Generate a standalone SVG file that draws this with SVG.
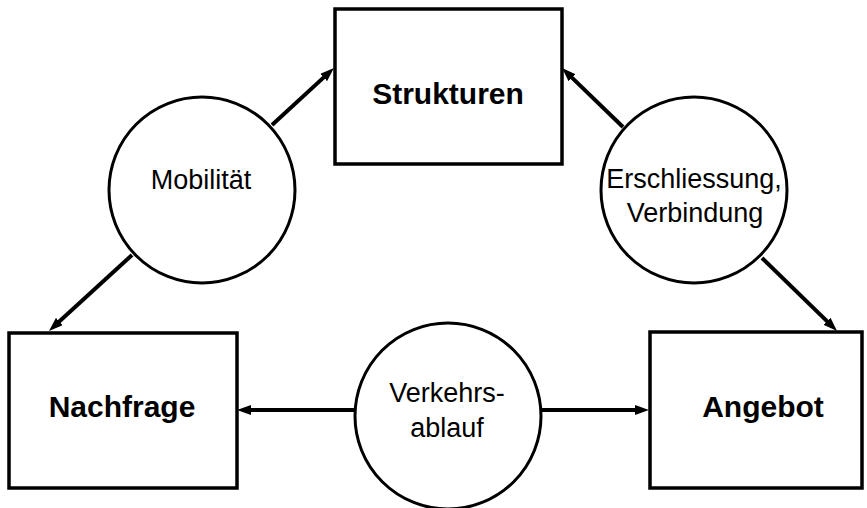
<svg xmlns="http://www.w3.org/2000/svg" width="867" height="508" viewBox="0 0 867 508">
<style>
.box{fill:#fff;stroke:#000;stroke-width:3.5}
.circ{fill:#fff;stroke:#000;stroke-width:3}
.conn{stroke:#000;stroke-width:4;fill:none}
.bt{font-family:"Liberation Sans",Arial,sans-serif;font-weight:bold;font-size:30px;text-anchor:middle;fill:#000}
.ct{font-family:"Liberation Sans",Arial,sans-serif;font-size:27px;text-anchor:middle;fill:#000}
</style>
<defs>
<marker id="ah" markerUnits="userSpaceOnUse" markerWidth="14" markerHeight="10" refX="6" refY="5" orient="auto">
<path d="M0,0 L14,5 L0,10 z" fill="#000"/>
</marker>
</defs>
<g id="connectors">
<line class="conn" x1="272" y1="125" x2="328.1" y2="73.4" marker-end="url(#ah)"/>
<line class="conn" x1="132" y1="255" x2="54.9" y2="325.6" marker-end="url(#ah)"/>
<line class="conn" x1="623" y1="127" x2="567.8" y2="73.6" marker-end="url(#ah)"/>
<line class="conn" x1="762" y1="258" x2="831.3" y2="325.4" marker-end="url(#ah)"/>
<line class="conn" x1="354" y1="410" x2="245" y2="410" marker-end="url(#ah)"/>
<line class="conn" x1="542" y1="410" x2="641" y2="410" marker-end="url(#ah)"/>
</g>
<g id="strukturen">
<rect class="box" x="335" y="9" width="227" height="155"/>
<text class="bt" x="448" y="104">Strukturen</text>
</g>
<g id="nachfrage">
<rect class="box" x="9" y="333" width="228" height="155"/>
<text class="bt" x="122" y="417">Nachfrage</text>
</g>
<g id="angebot">
<rect class="box" x="650" y="332" width="212" height="156"/>
<text class="bt" x="763" y="417">Angebot</text>
</g>
<g id="mobilitaet">
<circle class="circ" cx="202" cy="190" r="93"/>
<text class="ct" x="201" y="189">Mobilität</text>
</g>
<g id="erschliessung">
<circle class="circ" cx="694" cy="190" r="93"/>
<text class="ct" x="694" y="188">Erschliessung,</text>
<text class="ct" x="695" y="222">Verbindung</text>
</g>
<g id="verkehrsablauf">
<circle class="circ" cx="448" cy="416" r="93"/>
<text class="ct" x="447" y="402">Verkehrs-</text>
<text class="ct" x="447" y="437">ablauf</text>
</g>
</svg>
